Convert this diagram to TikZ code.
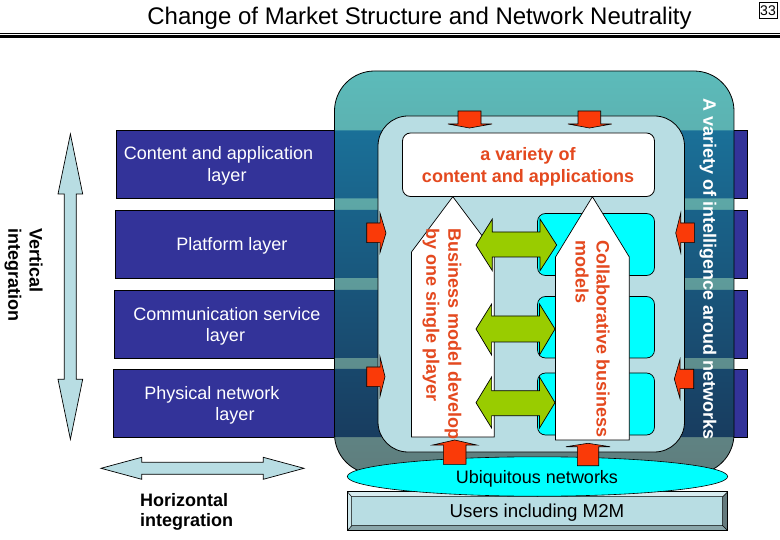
\documentclass[tikz,border=0pt]{standalone}
\usepackage{fontspec}
\setmainfont{Liberation Sans}
\definecolor{barblue}{HTML}{333399}
\definecolor{paleblue}{HTML}{B8DDE3}
\definecolor{arrowred}{HTML}{FA3A08}
\definecolor{textred}{HTML}{E4491F}
\definecolor{leaf}{HTML}{99CC00}
\definecolor{boxcyan}{HTML}{00FFFF}
\definecolor{frametop}{HTML}{5CBBBA}
\definecolor{framebot}{HTML}{5F7D7D}
\definecolor{darktop}{HTML}{1A7098}
\definecolor{darkbot}{HTML}{183C5F}
\tikzset{
  px/.style={x=1pt,y=-1pt,line join=miter},
  bar/.style={draw=black,line width=.8pt,fill=barblue},
  layertext/.style={text=white,font=\fontsize{18}{21}\selectfont,inner sep=0pt},
  redarrow/.style={draw=black,line width=.6pt,fill=arrowred},
  greenarrow/.style={draw=black,line width=.7pt,fill=leaf},
  palearrow/.style={draw=black,line width=.7pt,fill=paleblue},
  redtext/.style={text=textred,font=\bfseries\fontsize{18}{21}\selectfont,inner sep=0pt},
  darktext/.style={text=black,font=\fontsize{18}{21}\selectfont,inner sep=0pt},
  cyanbox/.style={line width=.7pt,fill=boxcyan,rounded corners=8pt},
  sidetext/.style={inner sep=0pt,font=\bfseries\fontsize{18}{21}\selectfont,rotate=-90,anchor=west},
}
\newcommand{\outerpath}{(334.5,111) arc[start angle=180,end angle=90,x radius=40,y radius=-40] -- (694,71) arc[start angle=90,end angle=0,x radius=40,y radius=-40] -- (734,434) arc[start angle=0,end angle=-90,x radius=40,y radius=-40] -- (374.5,474) arc[start angle=-90,end angle=-180,x radius=40,y radius=-40] -- cycle}
\begin{document}
\begin{tikzpicture}[px]
\useasboundingbox (0,0) rectangle (780,540);
% title
\node[inner sep=0pt,font=\fontsize{24}{28}\selectfont] (title) at (419.5,18) {Change of Market Structure and Network Neutrality};
\fill (0,33) rectangle (780,34);
\fill (0,35.3) rectangle (780,38);
\node[draw=black,line width=.7pt,minimum width=18pt,minimum height=16pt,inner sep=0pt,font=\fontsize{14}{16}\selectfont] (page) at (768,10.5) {33};

% layer bars
\draw[bar] (116,130.5) rectangle (747,198.5);
\draw[bar] (115,210) rectangle (747,278);
\draw[bar] (114,290) rectangle (747,358);
\draw[bar] (113,369) rectangle (747,437);

% outer rounded frame
\shade[top color=frametop,bottom color=framebot] \outerpath;
\begin{scope}
  \clip \outerpath;
  \clip (300,130.5) rectangle (760,198.5) (300,210) rectangle (760,278) (300,290) rectangle (760,358) (300,369) rectangle (760,437);
  \shade[top color=darktop,bottom color=darkbot] (300,130) rectangle (760,438);
\end{scope}
\draw[line width=.8pt] \outerpath;

% inner panel
\draw[line width=.8pt,fill=paleblue,rounded corners=30pt] (378,116) rectangle (684.5,452);

% cyan boxes
\draw[cyanbox] (537.5,213.5) rectangle (654.5,275.5);
\draw[cyanbox] (537.5,296.5) rectangle (654.5,358);
\draw[cyanbox] (537.5,373) rectangle (654.5,435);

% content box
\node[draw=black,line width=.8pt,fill=white,rounded corners=8pt,minimum width=252pt,minimum height=63.5pt,inner sep=0pt] (content) at (528.5,164.75) {};
\node[redtext] (contenta) at (528,156) {a variety of};
\node[redtext] (contentb) at (528,178) {content and applications};

% business model pentagons
\draw[line width=.7pt,fill=white] (452.8,196.7) -- (494.3,252) -- (494.3,437) -- (411.5,437) -- (411.5,252) -- cycle;
\draw[line width=.7pt,fill=white] (592.4,196.7) -- (629.3,257) -- (629.3,440) -- (555.5,440) -- (555.5,257) -- cycle;
\node[sidetext,text=textred] (single) at (453,228) {Business model develop};
\node[sidetext,text=textred] (singleb) at (431,228) {by one single player};
\node[sidetext,text=textred] (collab) at (603,240) {Collaborative business};
\node[sidetext,text=textred] (collabb) at (582,240) {models};

% green double arrows
\draw[greenarrow] (476,245) -- (492.3,219) -- (492.3,232) -- (540,232) -- (540,219) -- (556.7,245) -- (540,270.7) -- (540,257) -- (492.3,257) -- (492.3,270.7) -- cycle;
\draw[greenarrow] (476,329) -- (491.6,304) -- (491.6,316) -- (539.5,316) -- (539.5,304) -- (555,329) -- (539.5,355) -- (539.5,342) -- (491.6,342) -- (491.6,355) -- cycle;
\draw[greenarrow] (476,402.7) -- (491.6,377) -- (491.6,390.7) -- (539.5,390.7) -- (539.5,377) -- (555,402.7) -- (539.5,428) -- (539.5,415.7) -- (491.6,415.7) -- (491.6,428) -- cycle;

% users bevel
\draw[line width=.8pt,fill=paleblue] (347.3,491.7) rectangle (727.7,530.7);
\fill[paleblue!55!white] (347.3,491.7) -- (727.7,491.7) -- (722.7,496.7) -- (351.7,496.7) -- cycle;
\fill[paleblue!70!white] (347.3,491.7) -- (351.7,496.7) -- (351.7,525.7) -- (347.3,530.7) -- cycle;
\fill[paleblue!55!black] (727.7,491.7) -- (722.7,496.7) -- (722.7,525.7) -- (727.7,530.7) -- cycle;
\fill[paleblue!75!black] (347.3,530.7) -- (351.7,525.7) -- (722.7,525.7) -- (727.7,530.7) -- cycle;
\draw[line width=.5pt] (351.7,496.7) rectangle (722.7,525.7) (347.3,491.7) -- (351.7,496.7) (727.7,491.7) -- (722.7,496.7) (347.3,530.7) -- (351.7,525.7) (727.7,530.7) -- (722.7,525.7);
\draw[line width=.8pt] (347.3,491.7) rectangle (727.7,530.7);
\node[inner sep=0pt,font=\fontsize{18.7}{21}\selectfont] (users) at (537,513) {Users including M2M};

% ubiquitous ellipse
\draw[line width=.6pt,fill=boxcyan] (537.5,476.5) ellipse[x radius=190.2,y radius=19.7];
\node[darktext] (ubiq) at (537,478.5) {Ubiquitous networks};

% red arrows, top
\draw[redarrow] (458,111) -- (481,111) -- (481,124) -- (492,124) -- (469.5,128) -- (448,124) -- (458,124) -- cycle;
\draw[redarrow] (578,111) -- (600.7,111) -- (600.7,124) -- (611.7,124) -- (589.5,128) -- (568,124) -- (578,124) -- cycle;
% red arrows, left
\draw[redarrow] (366.7,223) -- (380,223) -- (380,213) -- (386,233) -- (380,252.7) -- (380,242.7) -- (366.7,242.7) -- cycle;
\draw[redarrow] (366.7,367) -- (380,367) -- (380,356.7) -- (385,376.7) -- (380,396.7) -- (380,386.7) -- (366.7,386.7) -- cycle;
% red arrows, right
\draw[redarrow] (694.3,223) -- (680.7,223) -- (680.7,213) -- (675.7,233) -- (680.7,252.7) -- (680.7,242.7) -- (694.3,242.7) -- cycle;
\draw[redarrow] (693.7,369.3) -- (680,369.3) -- (680,359.3) -- (674.3,379) -- (680,398.7) -- (680,388.7) -- (693.7,388.7) -- cycle;
% red arrows, bottom
\draw[redarrow] (443.3,464.3) -- (466,464.3) -- (466,445) -- (476.7,445) -- (454.7,440) -- (432.7,445) -- (443.3,445) -- cycle;
\draw[redarrow] (577.3,465.7) -- (598.7,465.7) -- (598.7,446.7) -- (610,446.7) -- (588,443.3) -- (566,446.7) -- (577.3,446.7) -- cycle;

% intelligence label
\node[sidetext,text=white] (intel) at (708,98) {A variety of intelligence aroud networks};

% layer labels
\node[layertext] (la) at (218.5,155) {Content and application};
\node[layertext] (lb) at (227,177) {layer};
\node[layertext] (lc) at (232,246) {Platform layer};
\node[layertext] (ld) at (227,314.5) {Communication service};
\node[layertext] (le) at (225.5,336.5) {layer};
\node[layertext] (lf) at (212,395) {Physical network};
\node[layertext] (lg) at (235,416) {layer};

% integration arrows
\draw[palearrow] (70.4,134) -- (82.7,194) -- (76.3,194) -- (76.3,379.3) -- (82.7,379.3) -- (70.4,439.3) -- (58,379.3) -- (64.3,379.3) -- (64.3,194) -- (58,194) -- cycle;
\draw[palearrow] (101,468.3) -- (141.7,457.3) -- (141.7,462.3) -- (263.3,462.3) -- (263.3,457.3) -- (304,468.3) -- (263.3,479.3) -- (263.3,474.3) -- (141.7,474.3) -- (141.7,479.3) -- cycle;
\node[sidetext] (va) at (36,228) {Vertical};
\node[sidetext] (vb) at (13,228) {integration};
\node[inner sep=0pt,font=\bfseries\fontsize{18}{21}\selectfont,anchor=west] (ha) at (140,500) {Horizontal};
\node[inner sep=0pt,font=\bfseries\fontsize{18}{21}\selectfont,anchor=west] (hb) at (140,522) {integration};
\end{tikzpicture}
\end{document}
